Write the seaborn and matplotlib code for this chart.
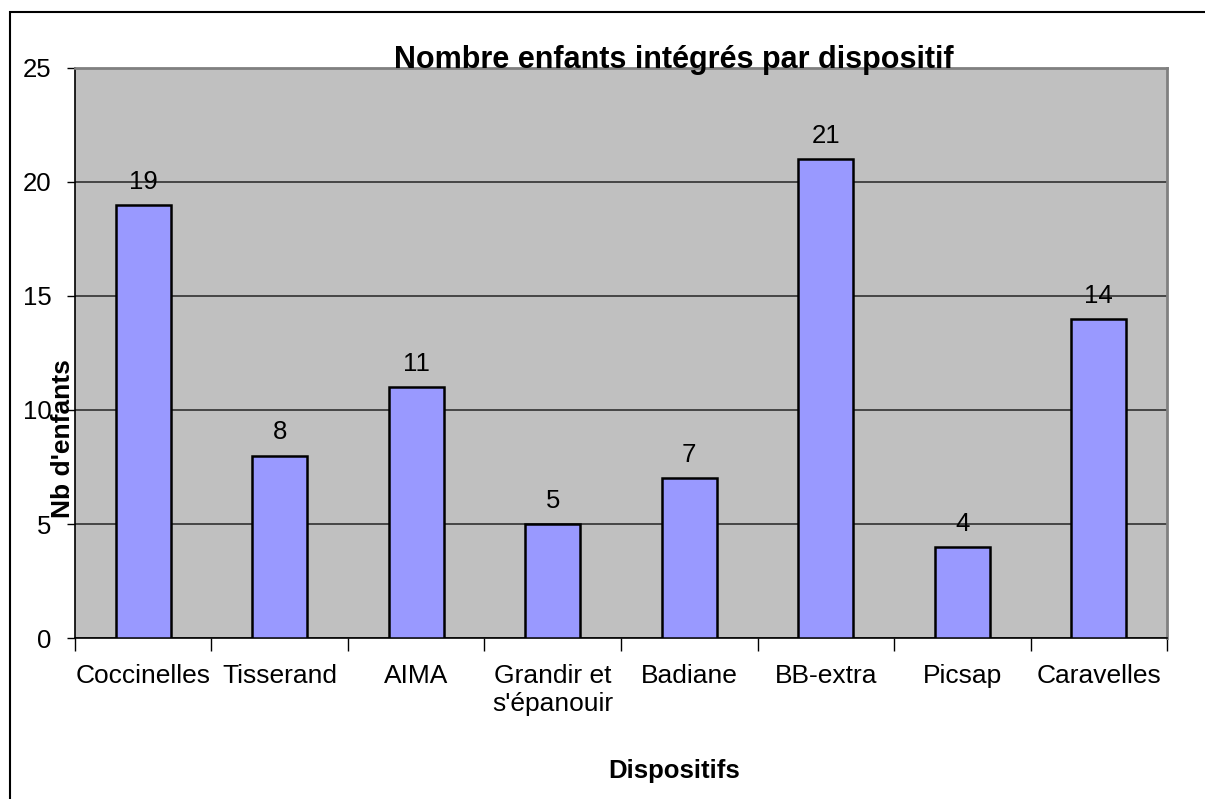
import pandas as pd
import seaborn as sns
import matplotlib.pyplot as plt
from matplotlib.patches import Rectangle

# Data
dispositifs = ["Coccinelles", "Tisserand", "AIMA", "Grandir et\ns'épanouir",
               "Badiane", "BB-extra", "Picsap", "Caravelles"]
nb_enfants = [19, 8, 11, 5, 7, 21, 4, 14]
y_ticks = [0, 5, 10, 15, 20, 25]

df = pd.DataFrame({"Dispositifs": dispositifs, "Nb": nb_enfants})

sns.set_style("white")
plt.rcParams['font.family'] = ['Liberation Sans', 'DejaVu Sans']
plt.rcParams['text.color'] = 'black'
plt.rcParams['axes.labelcolor'] = 'black'
plt.rcParams['xtick.color'] = 'black'
plt.rcParams['ytick.color'] = 'black'

fig = plt.figure(figsize=(12.05, 7.99), dpi=100)
ax = fig.add_axes([0.0622, 0.2015, 0.9063, 0.7134])
ax.set_facecolor("#C0C0C0")

sns.barplot(data=df, x="Dispositifs", y="Nb", color="#9999FF", saturation=1,
            width=0.4, edgecolor="black", linewidth=1.8, ax=ax, zorder=3)

# Value labels above bars
for i, v in enumerate(nb_enfants):
    ax.annotate(str(v), (i, v), xytext=(0, 8), textcoords="offset points",
                ha="center", va="bottom", fontsize=18.5)

ax.set_ylim(0, 25)
ax.set_xlim(-0.5, len(dispositifs) - 0.5)
ax.set_yticks(y_ticks)
ax.yaxis.grid(True, color="#303030", linewidth=1.2, zorder=0)
ax.set_axisbelow(True)

# Ticks: y outside, x ticks at category boundaries
ax.tick_params(axis="y", which="major", direction="out", length=6, width=1,
               labelsize=18.5, pad=11, left=True)
ax.tick_params(axis="x", which="major", length=0, labelsize=19, pad=19)
ax.set_xticks([i - 0.5 for i in range(len(dispositifs) + 1)], minor=True)
ax.tick_params(axis="x", which="minor", direction="out", length=9, width=1,
               bottom=True)

for side in ["left", "bottom"]:
    ax.spines[side].set_color("black")
    ax.spines[side].set_linewidth(1.2)
for side in ["top", "right"]:
    ax.spines[side].set_color("#808080")
    ax.spines[side].set_linewidth(2)
    ax.spines[side].set_visible(True)

ax.set_title("Nombre enfants intégrés par dispositif", fontsize=22,
             fontweight="bold", x=0.548, y=1.0, pad=0)
ax.set_xlabel("Dispositifs", fontsize=18.5, fontweight="bold")
ax.set_ylabel("Nb d'enfants", fontsize=19, fontweight="bold")
ax.xaxis.set_label_coords(0.549, -0.213)
ax.yaxis.set_label_coords(0.0, 0.35)

# Chart border (runs off the right and bottom edges)
fig.patches.append(Rectangle((10 / 1205, -0.05), 1.2, 1 - 12 / 799 + 0.05,
                             transform=fig.transFigure, fill=False,
                             edgecolor="black", linewidth=1.5))

fig.savefig("out.png", dpi=100)
